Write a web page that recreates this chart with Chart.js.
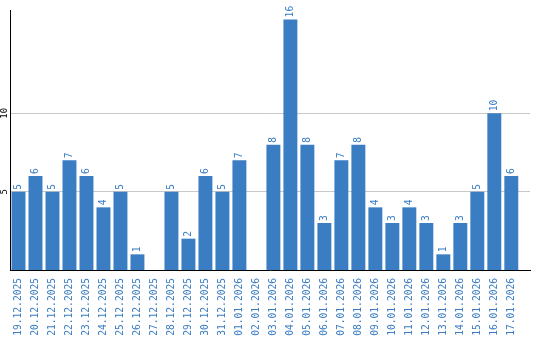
<!DOCTYPE html>
<html>
<head>
<meta charset="utf-8">
<script src="https://cdn.jsdelivr.net/npm/chart.js@4/dist/chart.umd.min.js"></script>
<style>
  html, body { margin: 0; padding: 0; background: #fff; }
  #wrap { width: 540px; height: 340px; }
</style>
</head>
<body>
<div id="wrap"><canvas id="dailyChart"></canvas></div>
<script>
// daily counts
const dates = ['19.12.2025', '20.12.2025', '21.12.2025', '22.12.2025', '23.12.2025', '24.12.2025',
    '25.12.2025', '26.12.2025', '27.12.2025', '28.12.2025', '29.12.2025', '30.12.2025', '31.12.2025',
    '01.01.2026', '02.01.2026', '03.01.2026', '04.01.2026', '05.01.2026', '06.01.2026', '07.01.2026',
    '08.01.2026', '09.01.2026', '10.01.2026', '11.01.2026', '12.01.2026', '13.01.2026', '14.01.2026',
    '15.01.2026', '16.01.2026', '17.01.2026'];
const counts = [5, 6, 5, 7, 6, 4, 5, 1, 0, 5, 2, 6, 5, 7, 0, 8, 16, 8, 3, 7, 8, 4, 3, 4, 3, 1, 3, 5, 10, 6];
const yTicks = [5, 10];

const blue = '#3a7dc2';
const monoFont = { family: "'DejaVu Sans Mono', monospace", size: 9.6 };

// value labels drawn above each bar, rotated like the axis labels
const barValues = {
    id: 'barValues',
    afterDatasetsDraw(chart) {
        const ctx = chart.ctx;
        const meta = chart.getDatasetMeta(0);
        ctx.save();
        ctx.fillStyle = blue;
        ctx.font = "9.6px 'DejaVu Sans Mono', monospace";
        ctx.textAlign = 'left';
        ctx.textBaseline = 'middle';
        meta.data.forEach((bar, i) => {
            if (!counts[i]) return;
            ctx.save();
            ctx.translate(bar.x, bar.y - 2);
            ctx.rotate(-Math.PI / 2);
            ctx.fillText(String(counts[i]), 0, 0);
            ctx.restore();
        });
        ctx.restore();
    }
};

const ctx = document.getElementById('dailyChart').getContext('2d');
new Chart(ctx, {
    type: 'bar',
    data: {
        datasets: [{
            data: counts.map((v, i) => ({ x: i, y: v })),
            backgroundColor: blue,
            borderWidth: 0,
            barPercentage: 0.82,
            categoryPercentage: 1
        }]
    },
    options: {
        responsive: true,
        maintainAspectRatio: false,
        animation: false,
        layout: { padding: { top: 10, right: 10, left: 0, bottom: 0 } },
        plugins: { legend: { display: false }, tooltip: { enabled: false } },
        scales: {
            x: {
                type: 'linear',
                offset: false,
                min: -0.5,
                max: 30.1,
                grid: { display: false },
                border: { display: true, color: '#000', width: 1 },
                afterBuildTicks: scale => { scale.ticks = dates.map((d, i) => ({ value: i })); },
                afterFit: scale => { scale.height = 70; },
                ticks: {
                    autoSkip: false,
                    minRotation: 90,
                    maxRotation: 90,
                    padding: 0,
                    color: blue,
                    font: monoFont,
                    callback: v => dates[v] ?? ''
                }
            },
            y: {
                min: 0,
                max: 16.6,
                grid: { color: '#c8c8c8', drawTicks: false },
                border: { display: true, color: '#000', width: 1 },
                afterBuildTicks: scale => { scale.ticks = yTicks.map(v => ({ value: v })); },
                afterFit: scale => { scale.width = 10; },
                ticks: {
                    minRotation: 90,
                    maxRotation: 90,
                    crossAlign: 'center',
                    padding: 0,
                    color: '#000',
                    font: { family: "'DejaVu Sans Mono', monospace", size: 9 }
                }
            }
        }
    },
    plugins: [barValues]
});
</script>
</body>
</html>
